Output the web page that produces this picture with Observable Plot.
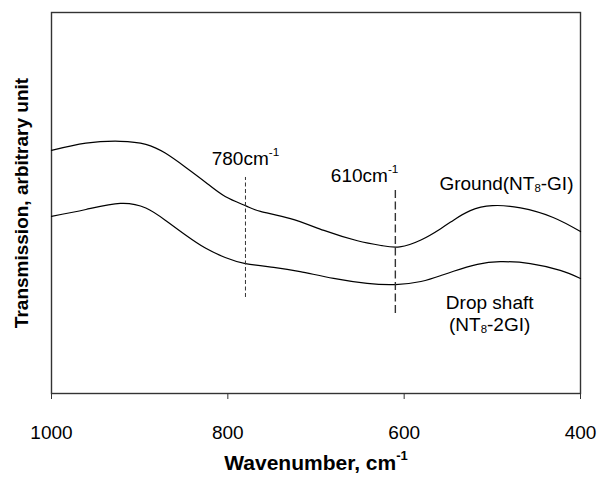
<!DOCTYPE html>
<html>
<head>
<meta charset="utf-8">
<script src="https://cdn.jsdelivr.net/npm/d3@7"></script>
<script src="https://cdn.jsdelivr.net/npm/@observablehq/plot@0.6"></script>
<style>
  html, body { margin: 0; padding: 0; background: #fff; }
  #chart svg { display: block; }
</style>
</head>
<body>
<div id="chart"></div>
<script>
// Ground (NT8-GI) spectrum: wavenumber (cm^-1) and transmission (arbitrary unit)
const groundWn = [1000, 961, 922, 893, 871, 848, 825, 803, 780, 763, 729, 691, 653, 625, 605, 581, 559, 544, 525, 500, 468, 431, 400];
const groundT  = [63.8, 65.7, 66.2, 65.4, 63.1, 59.4, 55.4, 51.7, 49.3, 47.8, 45.9, 42.8, 40.1, 38.8, 38.5, 40.3, 43.2, 45.5, 48.0, 49.3, 48.7, 46.2, 42.5];
// Drop shaft (NT8-2GI) spectrum
const dropWn = [1000, 961, 922, 893, 871, 848, 825, 803, 780, 748, 718, 680, 642, 610, 581, 559, 544, 517, 491, 457, 423, 400];
const dropT  = [46.5, 48.3, 49.9, 48.7, 45.5, 41.6, 38.1, 35.7, 34.1, 33.1, 32.0, 30.2, 28.9, 28.6, 29.4, 30.9, 32.1, 33.9, 34.6, 34.1, 32.3, 30.2];

// Marker lines
const markerWn = [780, 610];
const markerTop = [56.7, 53.3];
const markerBottom = [25.2, 21.0];
const markerLabels = ["780cm^{-1}", "610cm^{-1}"];
const markerLabelT = [61.7, 57.2];

// Series labels
const seriesLabels = ["Ground(NT_{8}-GI)", "Drop shaft", "(NT_{8}-2GI)"];
const seriesLabelWn = [484, 503, 503];
const seriesLabelT = [55.1, 23.9, 18.1];

const xTicks = [1000, 800, 600, 400];
const xTitle = "Wavenumber, cm^{-1}";
const yTitle = "Transmission, arbitrary unit";

const rows = [
  ...groundWn.map((w, i) => ({series: "Ground", w, t: groundT[i]})),
  ...dropWn.map((w, i) => ({series: "Drop", w, t: dropT[i]}))
];
const markers = markerWn.map((w, i) => ({w, y1: markerBottom[i], y2: markerTop[i], label: markerLabels[i], ly: markerLabelT[i]}));
const sLabels = seriesLabels.map((s, i) => ({s, w: seriesLabelWn[i], t: seriesLabelT[i]}));

const font = "Arial, 'Liberation Sans', Helvetica, sans-serif";

const chart = Plot.plot({
  width: 598,
  height: 478,
  marginLeft: 51,
  marginRight: 18,
  marginTop: 12,
  marginBottom: 85,
  style: {fontFamily: font, fontSize: "19px", color: "#000", background: "#fff"},
  x: {domain: [1000, 400], ticks: xTicks, tickSize: 6, tickPadding: 26, tickFormat: d3.format("d"), label: null},
  y: {domain: [0, 100], axis: null},
  marks: [
    Plot.frame({stroke: "#333", strokeWidth: 1.4}),
    Plot.line(rows, {x: "w", y: "t", z: "series", stroke: "#000", strokeWidth: 1.2, curve: "natural"}),
    Plot.ruleX(markers.filter(d => d.w === 780), {x: "w", y1: "y1", y2: "y2", stroke: "#333", strokeWidth: 1, strokeDasharray: "4,2.5"}),
    Plot.ruleX(markers.filter(d => d.w === 610), {x: "w", y1: "y1", y2: "y2", stroke: "#333", strokeWidth: 1.4, strokeDasharray: "8,3.5"}),
    Plot.text(markers.filter(d => d.w === 780), {x: "w", y: "ly", text: "label", textAnchor: "middle", fontSize: 19, fill: "#000"}),
    Plot.text(markers.filter(d => d.w === 610), {x: "w", y: "ly", text: "label", textAnchor: "end", dx: 3, fontSize: 19, fill: "#000"}),
    Plot.text(sLabels, {x: "w", y: "t", text: "s", textAnchor: "middle", fontSize: 19, fill: "#000"}),
    Plot.text([xTitle], {frameAnchor: "bottom", textAnchor: "middle", lineAnchor: "middle", dy: 70, text: d => d, fontSize: 21, fontWeight: "bold", fill: "#000"}),
    Plot.text([yTitle], {frameAnchor: "left", textAnchor: "middle", lineAnchor: "middle", dx: -30, dy: 0, rotate: -90, text: d => d, fontSize: 19, fontWeight: "bold", fill: "#000"})
  ]
});

// Convert ^{..} and _{..} markers into real super/subscript tspans
function richify(textEl) {
  const s = textEl.textContent;
  if (!/[\^_]\{/.test(s)) return;
  textEl.textContent = "";
  const re = /([\^_])\{([^}]*)\}/g;
  let last = 0, m;
  const ns = "http://www.w3.org/2000/svg";
  while ((m = re.exec(s)) !== null) {
    if (m.index > last) {
      const t = document.createElementNS(ns, "tspan");
      t.textContent = s.slice(last, m.index);
      textEl.appendChild(t);
    }
    const t = document.createElementNS(ns, "tspan");
    t.textContent = m[2];
    t.setAttribute("font-size", m[1] === "^" ? "0.62em" : "0.6em");
    t.setAttribute("baseline-shift", m[1] === "^" ? "75%" : "-15%");
    textEl.appendChild(t);
    last = re.lastIndex;
  }
  if (last < s.length) {
    const t = document.createElementNS(ns, "tspan");
    t.textContent = s.slice(last);
    textEl.appendChild(t);
  }
}
chart.querySelectorAll("text").forEach(richify);
chart.querySelectorAll("[aria-label='x-axis tick']").forEach(e => e.setAttribute("stroke", "#333"));

document.getElementById("chart").appendChild(chart);
</script>
</body>
</html>
